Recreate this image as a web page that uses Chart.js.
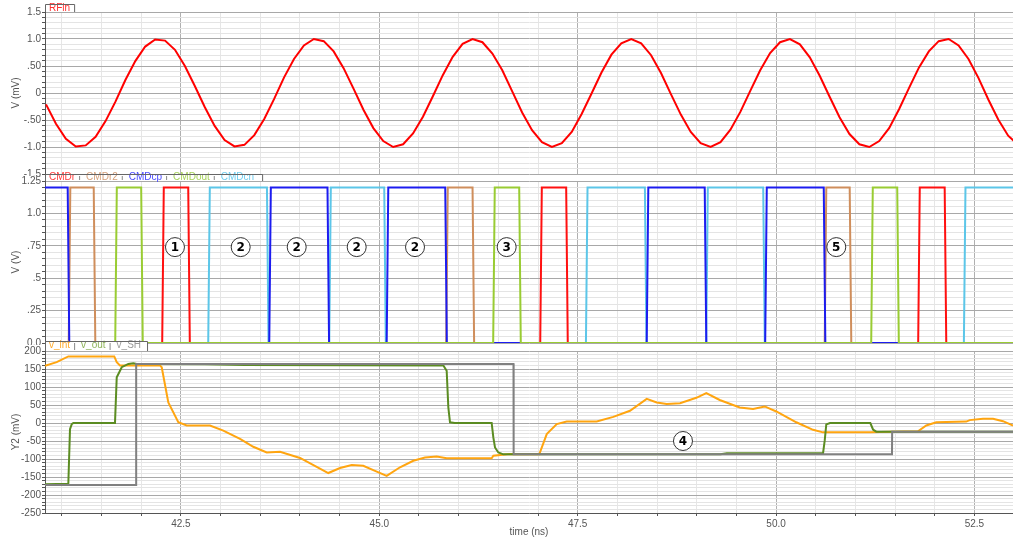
<!DOCTYPE html>
<html>
<head>
<meta charset="utf-8">
<script src="https://cdn.jsdelivr.net/npm/chart.js@4.4.1/dist/chart.umd.min.js"></script>
<style>
  html, body { margin: 0; padding: 0; background: #fff; }
  #wrap { position: relative; width: 1013px; height: 538px; }
  #wrap canvas { position: absolute; left: 0; top: 0; }
</style>
</head>
<body>
<div id="wrap">
  <canvas id="rf" width="1013" height="538"></canvas>
  <canvas id="cmd" width="1013" height="538"></canvas>
  <canvas id="out" width="1013" height="538"></canvas>
</div>
<script>
// time axis (ns)
const T_MIN = 40.787;
const T_MAX = 52.986;
const timeTickVals = [42.5, 45.0, 47.5, 50.0, 52.5];
const timeTickText = ["42.5", "45.0", "47.5", "50.0", "52.5"];

// panel 1: RFin (mV)
const rfinTickVals = [1.5, 1.0, 0.5, 0, -0.5, -1.0, -1.5];
const rfinTickText = ["1.5", "1.0", ".50", "0", "-.50", "-1.0", "-1.5"];
const rfinT = [40.8, 40.925, 41.05, 41.175, 41.3, 41.425, 41.55, 41.675, 41.8, 41.925,
  42.05, 42.175, 42.3, 42.425, 42.55, 42.675, 42.8, 42.925, 43.05, 43.175,
  43.3, 43.425, 43.55, 43.675, 43.8, 43.925, 44.05, 44.175, 44.3, 44.425,
  44.55, 44.675, 44.8, 44.925, 45.05, 45.175, 45.3, 45.425, 45.55, 45.675,
  45.8, 45.925, 46.05, 46.175, 46.3, 46.425, 46.55, 46.675, 46.8, 46.925,
  47.05, 47.175, 47.3, 47.425, 47.55, 47.675, 47.8, 47.925, 48.05, 48.175,
  48.3, 48.425, 48.55, 48.675, 48.8, 48.925, 49.05, 49.175, 49.3, 49.425,
  49.55, 49.675, 49.8, 49.925, 50.05, 50.175, 50.3, 50.425, 50.55, 50.675,
  50.8, 50.925, 51.05, 51.175, 51.3, 51.425, 51.55, 51.675, 51.8, 51.925,
  52.05, 52.175, 52.3, 52.425, 52.55, 52.675, 52.8, 52.925, 53.05];
const rfinV = [-0.21, -0.57, -0.85, -0.99, -0.97, -0.81, -0.52, -0.16, 0.24, 0.59,
  0.86, 0.99, 0.97, 0.80, 0.50, 0.13, -0.26, -0.61, -0.87, -0.99,
  -0.96, -0.78, -0.48, -0.11, 0.29, 0.63, 0.88, 1.00, 0.96, 0.77,
  0.46, 0.08, -0.31, -0.65, -0.89, -1.00, -0.95, -0.75, -0.44, -0.06,
  0.33, 0.67, 0.91, 1.00, 0.94, 0.73, 0.42, 0.03, -0.36, -0.69,
  -0.91, -1.00, -0.93, -0.72, -0.39, -0.01, 0.38, 0.71, 0.92, 1.00,
  0.92, 0.70, 0.37, -0.02, -0.40, -0.72, -0.93, -1.00, -0.91, -0.68,
  -0.35, 0.04, 0.42, 0.74, 0.94, 1.00, 0.90, 0.66, 0.32, -0.07,
  -0.45, -0.76, -0.95, -1.00, -0.89, -0.65, -0.30, 0.09, 0.47, 0.77,
  0.96, 1.00, 0.88, 0.63, 0.28, -0.12, -0.49, -0.79, -0.96];

// panel 2: control signals (V), switching times in ns
const cmdTickVals = [1.25, 1.0, 0.75, 0.5, 0.25, 0];
const cmdTickText = ["1.25", "1.0", ".75", ".5", ".25", "0.0"];
const HIGH = 1.2;
const cmdrStart = 0;
const cmdrEdges = [42.274, 42.602, 47.038, 47.365, 51.801, 52.135];
const cmdr2Start = 0;
const cmdr2Edges = [41.096, 41.411, 45.853, 46.185, 50.623, 50.938];
const cmdcpStart = HIGH;
const cmdcpEdges = [41.083, 43.623, 44.357, 45.103, 45.841, 48.380, 49.111, 49.873, 50.611];
const cmdoutStart = 0;
const cmdoutEdges = [41.682, 42.009, 46.445, 46.773, 51.209, 51.537];
const cmdcnStart = 0;
const cmdcnEdges = [42.854, 43.594, 44.379, 45.072, 47.614, 48.357, 49.130, 49.848, 52.377];
const cmdMarkT = [42.425, 43.253, 43.959, 44.715, 45.45, 46.605, 50.759];
const cmdMarkV = [0.74, 0.74, 0.74, 0.74, 0.74, 0.74, 0.74];
const cmdMarkText = ["1", "2", "2", "2", "2", "3", "5"];

// panel 3: v_int / v_out / v_SH (mV)
const outTickVals = [200, 150, 100, 50, 0, -50, -100, -150, -200, -250];
const outTickText = ["200", "150", "100", "50", "0", "-50", "-100", "-150", "-200", "-250"];
const vIntT = [40.787, 40.934, 41.081, 41.660, 41.691, 41.732, 42.236, 42.258, 42.341, 42.467,
  42.573, 42.866, 43.034, 43.245, 43.412, 43.581, 43.749, 44.001, 44.211, 44.357,
  44.505, 44.652, 44.798, 44.946, 45.093, 45.261, 45.428, 45.576, 45.723, 45.849,
  46.416, 46.437, 46.647, 47.016, 47.110, 47.236, 47.362, 47.740, 47.949, 48.159,
  48.370, 48.496, 48.622, 48.790, 48.995, 49.121, 49.290, 49.542, 49.710, 49.857,
  50.003, 50.255, 50.466, 50.592, 51.180, 51.452, 51.789, 51.893, 52.019, 52.398,
  52.440, 52.608, 52.734, 52.860, 52.986];
const vIntV = [159, 169, 185, 185, 169, 160, 160, 155, 57, 2,
  -7, -7, -21, -44, -66, -82, -80, -97, -122, -139,
  -125, -117, -119, -133, -147, -123, -105, -96, -93, -98,
  -98, -91, -86, -87, -31, -3, 4, 4, 17, 34,
  67, 57, 53, 55, 70, 83, 64, 43, 39, 46,
  32, 2, -19, -26, -26, -24, -23, -7, 2, 4,
  8, 12, 12, 5, -7];
const vOutT = [40.787, 41.081, 41.102, 41.124, 41.144, 41.669, 41.691, 41.754, 41.837, 41.900,
  41.943, 42.8, 43.3, 45.807, 45.849, 45.870, 45.891, 45.95, 46.416, 46.437,
  46.458, 46.500, 46.563, 49.30, 49.38, 50.592, 50.613, 50.633, 50.680, 51.188,
  51.222, 51.263, 52.986];
const vOutV = [-170, -169, -17, -3, 0, 0, 127, 155, 164, 166,
  164, 163, 161, 159.5, 145, 43, 2, 0, 0, -40,
  -68, -82, -87, -87, -84, -84, -49, -4, 0, 0,
  -18, -24, -24];
const vShT = [40.787, 41.934, 41.936, 46.691, 46.693, 51.461, 51.463, 52.986];
const vShV = [-172, -172, 164, 164, -87, -87, -24, -24];
const outMarkT = [48.827];
const outMarkV = [-50];
const outMarkText = ["4"];

const FONT = "Liberation Sans";
const EDGE = 0.02;

function zip(ts, vs) {
  return ts.map((t, i) => ({ x: t, y: vs[i] }));
}

function stepSeries(start, edges) {
  const pts = [{ x: T_MIN, y: start }];
  let lvl = start;
  edges.forEach((t) => {
    pts.push({ x: t - EDGE / 2, y: lvl });
    lvl = lvl ? 0 : HIGH;
    pts.push({ x: t + EDGE / 2, y: lvl });
  });
  pts.push({ x: T_MAX, y: lvl });
  return pts;
}

function isTick(v, vals) {
  return vals.some((m) => Math.abs(m - v) < 1e-6);
}

function label(v, vals, texts) {
  const i = vals.findIndex((m) => Math.abs(m - v) < 1e-6);
  return i < 0 ? "" : texts[i];
}

function line(data, color, width = 2) {
  return { data, borderColor: color, borderWidth: width, pointRadius: 0, tension: 0, fill: false };
}

function timeAxis(showLabels) {
  return {
    type: "linear",
    min: T_MIN,
    max: T_MAX,
    afterFit: (s) => { s.height = showLabels ? 25 : 0; },
    border: { display: showLabels, color: "#555" },
    grid: {
      color: (c) => (c.tick && isTick(c.tick.value, timeTickVals) ? "#b0b0b0" : "#e6e6e6"),
      drawTicks: showLabels,
      tickLength: 3,
      tickColor: "#555",
    },
    ticks: {
      display: showLabels,
      stepSize: 0.5,
      includeBounds: false,
      autoSkip: false,
      maxRotation: 0,
      padding: 2,
      color: "#555",
      font: { family: FONT, size: 10 },
      callback: (v) => label(v, timeTickVals, timeTickText),
    },
    title: { display: showLabels, text: "time (ns)", color: "#555", font: { family: FONT, size: 10 }, padding: { top: 0, bottom: 0 } },
  };
}

function valueAxis(min, max, step, vals, texts, title) {
  return {
    type: "linear",
    min,
    max,
    afterFit: (s) => { s.width = 45; },
    border: { color: "#555" },
    grid: {
      color: (c) => (c.tick && isTick(c.tick.value, vals) ? "#a8a8a8" : "#e4e4e4"),
      tickLength: 3,
      tickColor: "#555",
    },
    ticks: {
      stepSize: step,
      autoSkip: false,
      padding: 1,
      color: "#555",
      font: { family: FONT, size: 10 },
      callback: (v) => label(v, vals, texts),
    },
    title: { display: true, text: title, color: "#555", font: { family: FONT, size: 10 }, padding: { top: 10, bottom: 0 } },
  };
}

function whiteFrom(y0) {
  return {
    id: "whiteFrom",
    beforeDraw(chart) {
      const ctx = chart.ctx;
      ctx.save();
      ctx.fillStyle = "#fff";
      ctx.fillRect(0, y0, chart.width, chart.height - y0);
      ctx.restore();
    },
  };
}

// legend tab above each panel, like the simulator's trace list
function tabStrip(items, left, top, bottom, textY, extra) {
  return {
    id: "tabStrip",
    afterDraw(chart) {
      const ctx = chart.ctx;
      ctx.save();
      ctx.font = "10px '" + FONT + "'";
      ctx.textBaseline = "middle";
      ctx.textAlign = "left";
      let w = 4;
      items.forEach((it, i) => { w += ctx.measureText(it.text).width + (i ? 11 : 0); });
      const right = left + w + extra;
      ctx.fillStyle = "#fff";
      ctx.fillRect(left + 1, top + 1, right - left - 1, bottom - top - 1);
      let x = left + 4;
      items.forEach((it, i) => {
        if (i) {
          ctx.strokeStyle = "#888";
          ctx.lineWidth = 1;
          ctx.beginPath();
          ctx.moveTo(x + 4.5, top + 2);
          ctx.lineTo(x + 4.5, bottom - 1);
          ctx.stroke();
          x += 11;
        }
        ctx.fillStyle = it.color;
        ctx.fillText(it.text, x, textY);
        x += ctx.measureText(it.text).width;
      });
      ctx.strokeStyle = "#666";
      ctx.lineWidth = 1;
      ctx.beginPath();
      ctx.moveTo(left + 0.5, bottom);
      ctx.lineTo(left + 0.5, top + 0.5);
      ctx.lineTo(right + 0.5, top + 0.5);
      ctx.lineTo(right + 0.5, bottom);
      ctx.stroke();
      ctx.restore();
    },
  };
}

function circleMarks(ts, vs, texts) {
  return {
    id: "circleMarks",
    afterDatasetsDraw(chart) {
      const { ctx, scales } = chart;
      ctx.save();
      ts.forEach((t, i) => {
        const px = scales.x.getPixelForValue(t);
        const py = scales.y.getPixelForValue(vs[i]);
        ctx.beginPath();
        ctx.arc(px, py, 9.5, 0, Math.PI * 2);
        ctx.fillStyle = "#fff";
        ctx.fill();
        ctx.lineWidth = 1;
        ctx.strokeStyle = "#333";
        ctx.stroke();
        ctx.fillStyle = "#000";
        ctx.font = "bold 12px 'DejaVu Sans'";
        ctx.textAlign = "center";
        ctx.textBaseline = "middle";
        ctx.fillText(texts[i], px, py + 0.5);
      });
      ctx.restore();
    },
  };
}

function baseOptions(padding, xAxis, yAxis) {
  return {
    responsive: false,
    animation: false,
    devicePixelRatio: 1,
    layout: { padding },
    plugins: { legend: { display: false }, tooltip: { enabled: false } },
    scales: { x: xAxis, y: yAxis },
  };
}

new Chart(document.getElementById("rf"), {
  type: "line",
  data: { datasets: [line(zip(rfinT, rfinV), "#ff0000")] },
  options: baseOptions({ top: 12, bottom: 364, left: 0, right: 0 }, timeAxis(false),
    valueAxis(-1.5, 1.5, 0.1, rfinTickVals, rfinTickText, "V (mV)")),
  plugins: [tabStrip([{ text: "RFin", color: "#ff3030" }], 45, 4, 12, 8.5, 4)],
});

new Chart(document.getElementById("cmd"), {
  type: "line",
  data: {
    datasets: [
      line(stepSeries(cmdoutStart, cmdoutEdges), "#99cc33"),
      line(stepSeries(cmdcpStart, cmdcpEdges), "#1c1cf0"),
      line(stepSeries(cmdrStart, cmdrEdges), "#ff1010"),
      line(stepSeries(cmdr2Start, cmdr2Edges), "#cf8e5c"),
      line(stepSeries(cmdcnStart, cmdcnEdges), "#5cc6e8"),
    ],
  },
  options: baseOptions({ top: 181, bottom: 195, left: 0, right: 0 }, timeAxis(false),
    valueAxis(0, 1.25, 0.05, cmdTickVals, cmdTickText, "V (V)")),
  plugins: [
    whiteFrom(176),
    tabStrip([
      { text: "CMDr", color: "#ff3b3b" },
      { text: "CMDr2", color: "#d6a17c" },
      { text: "CMDcp", color: "#4a4aff" },
      { text: "CMDout", color: "#a6d25a" },
      { text: "CMDcn", color: "#6fcdee" },
    ], 45, 174, 181, 177.5, 8),
    circleMarks(cmdMarkT, cmdMarkV, cmdMarkText),
  ],
});

new Chart(document.getElementById("out"), {
  type: "line",
  data: {
    datasets: [
      line(zip(vShT, vShV), "#808080"),
      line(zip(vOutT, vOutV), "#5b8c22"),
      line(zip(vIntT, vIntV), "#ffa510"),
    ],
  },
  options: baseOptions({ top: 351, bottom: 0, left: 0, right: 0 }, timeAxis(true),
    valueAxis(-250, 200, 10, outTickVals, outTickText, "Y2 (mV)")),
  plugins: [
    whiteFrom(345),
    tabStrip([
      { text: "v_int", color: "#ffab2e" },
      { text: "v_out", color: "#8fb35a" },
      { text: "v_SH", color: "#9a9a9a" },
    ], 45, 341, 351, 345.5, 6),
    circleMarks(outMarkT, outMarkV, outMarkText),
  ],
});
</script>
</body>
</html>
